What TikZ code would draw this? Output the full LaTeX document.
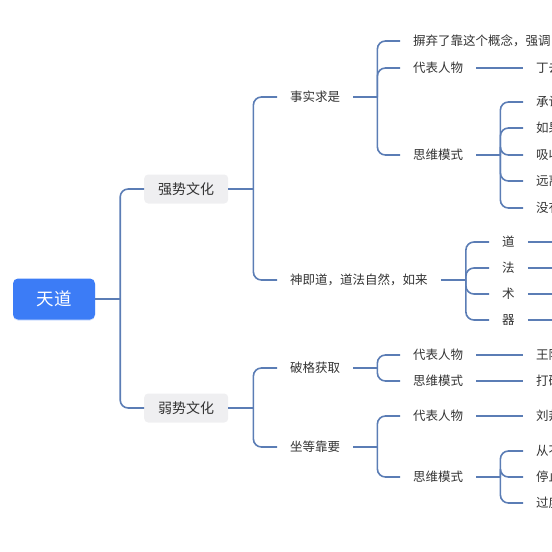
\documentclass[tikz,border=0pt]{standalone}
\usepackage{fontspec}
\usepackage[dvipsnames]{xcolor}
\usetikzlibrary{shadows}
\newfontfamily\cjk{Noto Sans CJK SC}
\definecolor{linkblue}{HTML}{5B7DB5}
\definecolor{rootblue}{HTML}{3C7CF6}
\definecolor{boxgray}{HTML}{EFEFF1}
\definecolor{txtgray}{HTML}{333333}

\begin{document}
\begin{tikzpicture}[x=1pt,y=-1pt,
    link/.style={draw=linkblue,line width=1.6pt,rounded corners=8pt},
    root node/.style={fill=rootblue,rounded corners=5pt,minimum width=82pt,minimum height=41pt,text=white,font=\cjk\fontsize{17.5}{20}\selectfont,drop shadow={shadow xshift=0pt,shadow yshift=-1pt,fill=rootblue,opacity=0.25}},
    main node/.style={fill=boxgray,rounded corners=4pt,minimum width=84pt,minimum height=29pt,anchor=west,text=txtgray,font=\cjk\fontsize{14}{16}\selectfont},
    leaf node/.style={anchor=west,inner xsep=13pt,inner ysep=3pt,text=txtgray,font=\cjk\fontsize{12.5}{15}\selectfont}]
    \useasboundingbox (0,0) rectangle (552,552);
    \clip (0,0) rectangle (552,552);

                \node[root node] (1) at (54,299) {天道};
                \node[main node] (2) at (144,189) {强势文化};
                \node[main node] (3) at (144,408) {弱势文化};

                \node[leaf node] (21) at (277,97) {事实求是};
                \node[leaf node] (22) at (277,280) {神即道，道法自然，如来};
                \node[leaf node] (31) at (277,368) {破格获取};
                \node[leaf node] (32) at (277,447) {坐等靠要};

                \node[leaf node] (211) at (400,41) {摒弃了靠这个概念，强调};
                \node[leaf node] (212) at (400,68) {代表人物};
                \node[leaf node] (213) at (400,155) {思维模式};
                \node[leaf node] (2121) at (523,68) {丁去};
                \node[leaf node] (2131) at (523,102) {承认};
                \node[leaf node] (2132) at (523,128) {如果};
                \node[leaf node] (2133) at (523,155) {吸收};
                \node[leaf node] (2134) at (523,181) {远离};
                \node[leaf node] (2135) at (523,208) {没有};

                \node[leaf node] (221) at (489,242) {道};
                \node[leaf node] (222) at (489,268) {法};
                \node[leaf node] (223) at (489,294) {术};
                \node[leaf node] (224) at (489,320) {器};

                \node[leaf node] (311) at (400,355) {代表人物};
                \node[leaf node] (312) at (400,381) {思维模式};
                \node[leaf node] (3111) at (523,355) {王阳};
                \node[leaf node] (3121) at (523,381) {打破};

                \node[leaf node] (321) at (400,416) {代表人物};
                \node[leaf node] (322) at (400,477) {思维模式};
                \node[leaf node] (3211) at (523,416) {刘邦};
                \node[leaf node] (3221) at (523,451) {从不};
                \node[leaf node] (3222) at (523,477) {停止};
                \node[leaf node] (3223) at (523,503) {过度};

                % stubs out of each parent, then one bent line per child
                \draw[link] (1.east) -- ++(25,0) coordinate (j1);
                \foreach \c in {2,3} \draw[link] (j1) |- (\c.west);

                \draw[link] (2.east) -- ++(25,0) coordinate (j2);
                \foreach \c in {21,22} \draw[link] (j2) |- (\c.west);
                \draw[link] (3.east) -- ++(25,0) coordinate (j3);
                \foreach \c in {31,32} \draw[link] (j3) |- (\c.west);

                \draw[link] (21.east) -- ++(24,0) coordinate (j21);
                \foreach \c in {211,212,213} \draw[link] (j21) |- (\c.west);
                \draw[link] (212.east) -- (2121.west);
                \draw[link] (213.east) -- ++(24,0) coordinate (j213);
                \foreach \c in {2131,2132,2133,2134,2135} \draw[link] (j213) |- (\c.west);

                \draw[link] (22.east) -- ++(25,0) coordinate (j22);
                \foreach \c in {221,222,223,224} {
                    \draw[link] (j22) |- (\c.west);
                    \draw[link] (\c.east) -- ++(40,0);
                }

                \draw[link] (31.east) -- ++(24,0) coordinate (j31);
                \foreach \c in {311,312} \draw[link] (j31) |- (\c.west);
                \draw[link] (311.east) -- (3111.west);
                \draw[link] (312.east) -- (3121.west);

                \draw[link] (32.east) -- ++(24,0) coordinate (j32);
                \foreach \c in {321,322} \draw[link] (j32) |- (\c.west);
                \draw[link] (321.east) -- (3211.west);
                \draw[link] (322.east) -- ++(24,0) coordinate (j322);
                \foreach \c in {3221,3222,3223} \draw[link] (j322) |- (\c.west);
            \end{tikzpicture}
\end{document}
